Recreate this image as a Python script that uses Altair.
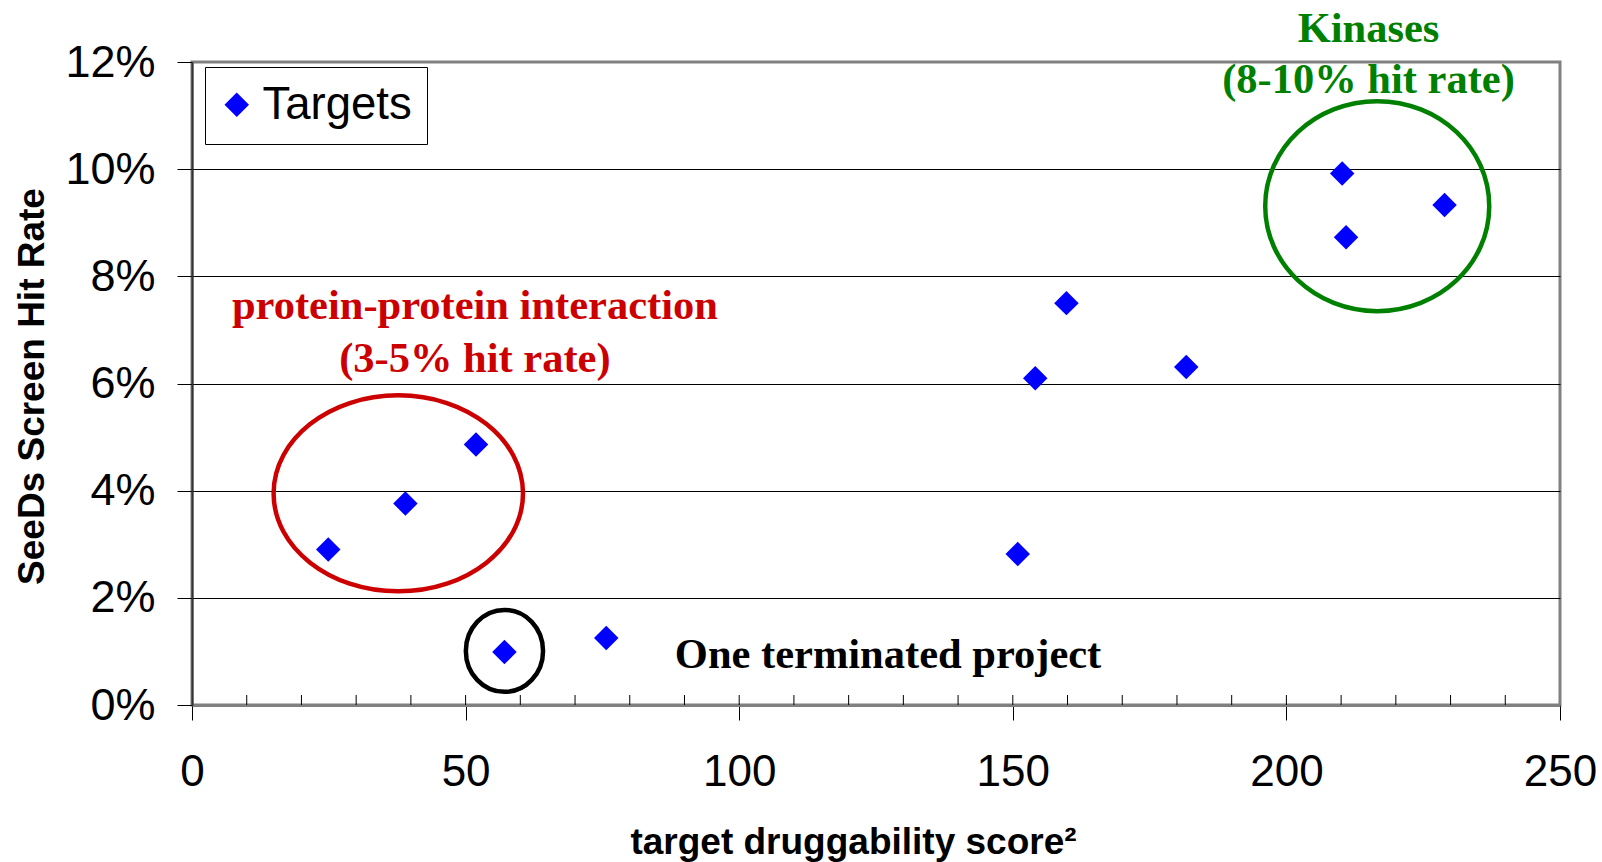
import altair as alt
import pandas as pd

# Screened targets: druggability score vs. SeeDs screen hit rate
scores = [24.9, 39.0, 51.9, 57.1, 75.7, 150.9, 154.1, 159.8, 181.7, 210.2, 210.9, 228.9]
hit_rates = [0.0290, 0.0376, 0.0486, 0.0099, 0.0125, 0.0282, 0.0610, 0.0750,
             0.0631, 0.0992, 0.0873, 0.0933]

# Outlined target groups (outline centre in data units)
group_names = ["ppi", "terminated", "kinases"]
group_x = [37.7, 57.1, 216.6]
group_y = [0.0395, 0.0101, 0.0931]

# Group annotations
note_text = ["Kinases", "(8-10% hit rate)", "protein-protein interaction",
             "(3-5% hit rate)", "One terminated project"]
note_x = [215.0, 215.0, 51.7, 51.7, 127.2]
note_y = [0.1237, 0.1142, 0.0720, 0.0621, 0.0069]
note_group = ["kinases", "kinases", "ppi", "ppi", "terminated"]

x_ticks = [0, 50, 100, 150, 200, 250]
x_minor = [10, 20, 30, 40, 50, 60, 70, 80, 90, 100, 110, 120, 130, 140, 150,
           160, 170, 180, 190, 200, 210, 220, 230, 240]
y_ticks = [0, 0.02, 0.04, 0.06, 0.08, 0.10, 0.12]

# Outline style per group: colour, horizontal radius (px), vertical/horizontal ratio
group_style = {
    "ppi": ("#CC0000", 124.7, 0.786),
    "terminated": ("#000000", 38.6, 1.062),
    "kinases": ("#008000", 112.0, 0.9375),
}

W, H = 1368, 643
SANS = "Liberation Sans"
SERIF = "Liberation Serif"

x_scale = alt.Scale(domain=[0, 250], nice=False, zero=False)
y_scale = alt.Scale(domain=[0, 0.12], nice=False, zero=False)


def ellipse_path(b):
    """Unit ellipse (x radius 1, y radius b) built from four cubic curves."""
    k = 0.5523
    return (f"M -1 0 C -1 {-k*b:.4f} {-k:.4f} {-b:.4f} 0 {-b:.4f} "
            f"C {k:.4f} {-b:.4f} 1 {-k*b:.4f} 1 0 "
            f"C 1 {k*b:.4f} {k:.4f} {b:.4f} 0 {b:.4f} "
            f"C {-k:.4f} {b:.4f} -1 {k*b:.4f} -1 0 Z")


points = pd.DataFrame({"score": scores, "rate": hit_rates, "series": "Targets"})
groups = pd.DataFrame({"group": group_names, "score": group_x, "rate": group_y})
notes = pd.DataFrame({"text": note_text, "score": note_x, "rate": note_y,
                      "group": note_group})
minor = pd.DataFrame({"score": x_minor})

x_axis = alt.Axis(
    values=x_ticks, tickSize=15, tickColor="black", tickWidth=1,
    domainColor="#808080", domainWidth=3, grid=False,
    labelFont=SANS, labelFontSize=44, labelColor="black", labelPadding=30,
    labelFlush=False, labelOverlap=False,
    title="target druggability score²", titleFont=SANS, titleFontWeight="bold",
    titleFontSize=37, titleColor="black", titleX=661, titleY=148,
    titleAlign="center", titleBaseline="alphabetic",
)
y_axis = alt.Axis(
    values=y_ticks, format=".0%", tickSize=15, tickColor="black", tickWidth=1,
    domainColor="#333333", domainWidth=2,
    grid=True, gridWidth=1,
    gridColor={"condition": {"test": "datum.value >= 0.12", "value": "#808080"},
               "value": "#000000"},
    labelFont=SANS, labelFontSize=45, labelColor="black", labelPadding=22,
    labelFlush=False,
    title="SeeDs Screen Hit Rate", titleFont=SANS, titleFontWeight="bold",
    titleFontSize=37, titleColor="black", titleX=-149, titleY=324,
    titleAngle=270, titleAlign="center", titleBaseline="alphabetic",
)

# Minor tick marks pointing up from the x axis
minor_ticks = alt.Chart(minor).mark_rule(color="black", strokeWidth=1).encode(
    x=alt.X("score:Q", scale=x_scale, axis=x_axis),
    y=alt.value(H),
    y2=alt.value(H - 10),
)

layers = [minor_ticks]

# Group outlines
for name in group_names:
    color, rx, ratio = group_style[name]
    layers.append(
        alt.Chart(groups[groups["group"] == name]).mark_point(
            shape=ellipse_path(ratio), filled=False, size=(2 * rx) ** 2,
            stroke=color, strokeWidth=4.5, opacity=1,
        ).encode(
            x=alt.X("score:Q", scale=x_scale, axis=x_axis),
            y=alt.Y("rate:Q", scale=y_scale, axis=y_axis),
        )
    )

# Target points
layers.append(
    alt.Chart(points).mark_point(
        shape="diamond", filled=True, size=600, opacity=1, strokeWidth=0,
    ).encode(
        x=alt.X("score:Q", scale=x_scale, axis=x_axis),
        y=alt.Y("rate:Q", scale=y_scale, axis=y_axis),
        color=alt.Color(
            "series:N",
            scale=alt.Scale(domain=["Targets"], range=["#0000FF"]),
            legend=alt.Legend(
                title=None, orient="none", legendX=13, legendY=5,
                symbolType="diamond", symbolSize=600, symbolStrokeWidth=0,
                symbolOpacity=1, symbolOffset={"expr": "-6"},
                labelFont=SANS, labelFontSize=45.5,
                labelColor="black", labelOffset=3, padding=15,
                strokeColor="black", fillColor="white",
            ),
        ),
    )
)

# Annotation texts
for name in group_names:
    color = group_style[name][0]
    layers.append(
        alt.Chart(notes[notes["group"] == name]).mark_text(
            font=SERIF, fontWeight="bold", fontSize=42.5, color=color,
            align="center", baseline="alphabetic",
        ).encode(
            x=alt.X("score:Q", scale=x_scale, axis=x_axis),
            y=alt.Y("rate:Q", scale=y_scale, axis=y_axis),
            text="text:N",
        )
    )

chart = alt.layer(*layers).properties(
    width=W, height=H,
    autosize=alt.AutoSizeParams(type="none"),
    padding={"left": 192, "top": 62, "right": 42, "bottom": 157},
    background="white",
).configure_view(stroke="#808080", strokeWidth=3)

chart.save("out.html", embed_options={"renderer": "svg", "actions": False})
